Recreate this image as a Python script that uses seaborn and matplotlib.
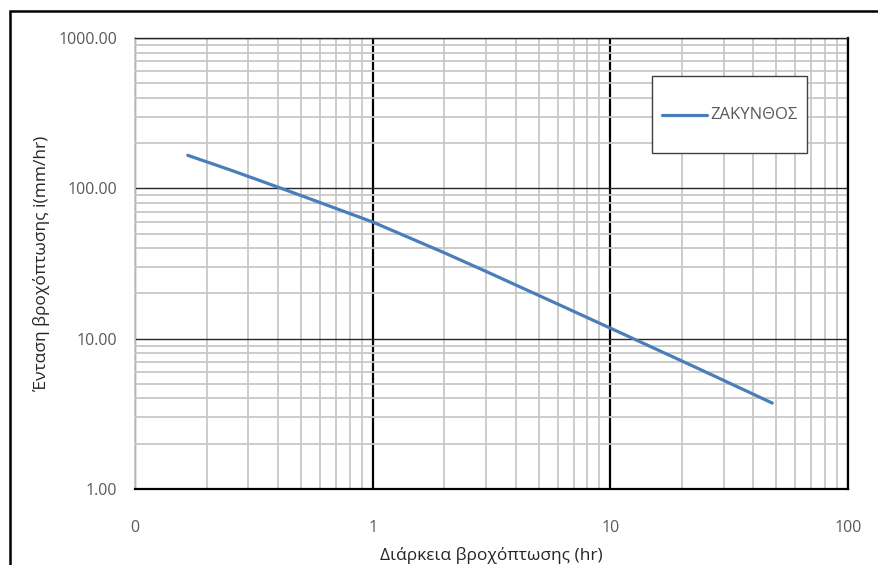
import pandas as pd
import matplotlib
matplotlib.use("Agg")
import matplotlib.pyplot as plt
import matplotlib.ticker as mticker
from matplotlib.patches import Rectangle
import seaborn as sns

# Δεδομένα (ανάγνωση από το διάγραμμα)
durations = [0.1667, 0.25, 0.3333, 0.5, 1, 2, 3, 6, 12, 24, 48]
intensity = [165.8, 133.0, 113.0, 89.5, 59.7, 37.3, 28.0, 17.0, 10.3, 6.22, 3.73]
station = "ΖΑΚΥΝΘΟΣ"
x_ticks = [0.1, 1, 10, 100]
y_ticks = [1, 10, 100, 1000]

df = pd.DataFrame({"t": durations, "i": intensity, "station": station})

sns.set_style("white")
plt.rcParams["font.family"] = ["Open Sans", "DejaVu Sans"]

fig = plt.figure(figsize=(8.79, 5.65), dpi=100)
ax = fig.add_axes([135 / 879, 1 - 489 / 565, 713 / 879, 451 / 565])

sns.lineplot(data=df, x="t", y="i", hue="station", palette=["#4A7EBB"],
             linewidth=2.3, ax=ax, legend=False)

ax.set_xscale("log")
ax.set_yscale("log")
ax.set_xlim(0.1, 100)
ax.set_ylim(1, 1000)

ax.set_xticks(x_ticks)
ax.set_yticks(y_ticks)
ax.xaxis.set_major_formatter(mticker.FuncFormatter(lambda v, p: f"{v:.0f}"))
ax.yaxis.set_major_formatter(mticker.FuncFormatter(lambda v, p: f"{v:.2f}"))
ax.xaxis.set_minor_locator(mticker.LogLocator(base=10, subs=range(2, 10)))
ax.yaxis.set_minor_locator(mticker.LogLocator(base=10, subs=range(2, 10)))
ax.xaxis.set_minor_formatter(mticker.NullFormatter())
ax.yaxis.set_minor_formatter(mticker.NullFormatter())

ax.grid(which="minor", axis="both", color="#c8c8c8", linewidth=1.3)
ax.grid(which="major", axis="x", color="black", linewidth=1.6)
ax.grid(which="major", axis="y", color="#262626", linewidth=1.0)
ax.set_axisbelow(True)

ax.tick_params(which="both", length=0)
ax.tick_params(axis="x", pad=22, labelsize=11.5, labelcolor="#595959")
ax.tick_params(axis="y", pad=13, labelsize=11.5, labelcolor="#595959")

for s in ["bottom", "right"]:
    ax.spines[s].set_color("black")
    ax.spines[s].set_linewidth(1.6)
ax.spines["top"].set_color("#262626")
ax.spines["top"].set_linewidth(1.0)
ax.spines["left"].set_color("#c8c8c8")
ax.spines["left"].set_linewidth(1.3)

ax.set_xlabel("Διάρκεια βροχόπτωσης (hr)", fontsize=12.5, color="#262626", labelpad=8)
ax.set_ylabel("Ένταση βροχόπτωσης i(mm/hr)", fontsize=12.5, color="#262626", labelpad=6)

# υπόμνημα
ax.add_patch(Rectangle((0.725, 0.745), 0.2175, 0.171, transform=ax.transAxes,
                       facecolor="white", edgecolor="#404040", linewidth=1.0, zorder=5))
ax.plot([0.739, 0.802], [0.83, 0.83], transform=ax.transAxes, color="#4A7EBB",
        linewidth=2.3, zorder=6)
ax.text(0.807, 0.83, station, transform=ax.transAxes, va="center", ha="left",
        fontsize=12, color="#595959", zorder=6)

# πλαίσιο διαγράμματος
fig.patches.append(Rectangle((10 / 879, -0.01), 1.0, 1 - 11 / 565 + 0.01,
                             transform=fig.transFigure, fill=False,
                             edgecolor="black", linewidth=1.8))

fig.savefig("out.png", dpi=100)
